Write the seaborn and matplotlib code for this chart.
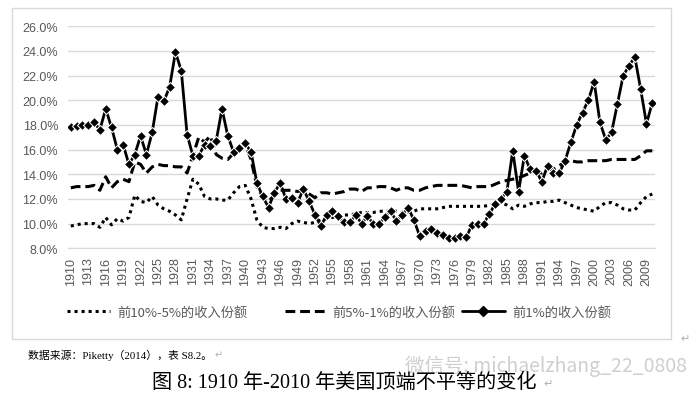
"""Top income shares in the US, 1910-2010 (Piketty 2014, table S8.2)."""
import matplotlib
matplotlib.use("Agg")
import matplotlib.pyplot as plt
from matplotlib.lines import Line2D
from matplotlib.patches import Rectangle
from matplotlib.ticker import FuncFormatter
import seaborn as sns

years = list(range(1910, 2011))

# 前1%的收入份额
top1 = [
    17.8, 17.9, 18.0, 18.0, 18.2, 17.6, 19.3, 17.8, 16.0, 16.4,
    14.8, 15.6, 17.1, 15.6, 17.4, 20.3, 19.9, 21.1, 23.9, 22.4,
    17.2, 15.5, 15.5, 16.4, 16.3, 16.7, 19.3, 17.1, 15.8, 16.1,
    16.5, 15.8, 13.3, 12.2, 11.3, 12.5, 13.3, 12.0, 12.1, 11.7,
    12.8, 11.8, 10.7, 9.8, 10.7, 11.0, 10.6, 10.1, 10.1, 10.7,
    10.0, 10.6, 10.0, 10.0, 10.5, 11.0, 10.2, 10.7, 11.3, 10.3,
    9.0, 9.4, 9.6, 9.2, 9.1, 8.8, 8.8, 9.0, 8.9, 9.9,
    10.0, 10.0, 10.8, 11.6, 12.0, 12.6, 15.9, 12.6, 15.5, 14.4,
    14.3, 13.4, 14.7, 14.1, 14.1, 15.1, 16.6, 18.0, 19.0, 20.0,
    21.5, 18.2, 16.8, 17.4, 19.7, 22.0, 22.8, 23.5, 20.9, 18.1, 19.8,
]

# 前5%-1%的收入份额
top5_1 = [
    12.9, 13.0, 13.0, 13.0, 13.1, 12.7, 13.8, 12.9, 13.4, 13.6,
    13.4, 15.0, 14.8, 14.1, 14.6, 14.8, 14.7, 14.7, 14.6, 14.6,
    14.1, 15.5, 17.0, 16.6, 17.1, 15.6, 15.3, 15.2, 15.7, 16.1,
    16.4, 15.2, 13.0, 12.2, 11.8, 12.3, 12.7, 12.7, 12.7, 12.6,
    12.7, 12.4, 12.1, 12.5, 12.5, 12.4, 12.5, 12.6, 12.8, 12.8,
    12.6, 12.9, 12.9, 13.0, 13.0, 12.9, 12.7, 12.9, 12.9, 12.7,
    12.7, 12.9, 13.0, 13.1, 13.1, 13.1, 13.1, 13.1, 13.0, 12.9,
    13.0, 13.0, 13.0, 13.2, 13.4, 13.5, 13.6, 13.7, 13.9, 14.1,
    14.2, 14.1, 14.4, 14.4, 14.7, 15.0, 15.1, 15.0, 15.0, 15.1,
    15.1, 15.1, 15.1, 15.2, 15.2, 15.2, 15.2, 15.2, 15.5, 15.9, 15.9,
]

# 前10%-5%的收入份额
top10_5 = [
    9.8, 9.9, 10.0, 10.0, 10.0, 9.7, 10.5, 9.9, 10.4, 10.2,
    10.5, 12.3, 11.8, 11.7, 12.2, 11.5, 11.2, 11.0, 10.7, 10.3,
    12.0, 13.6, 13.2, 12.2, 12.0, 12.0, 11.9, 11.9, 12.5, 13.0,
    13.1, 12.0, 10.3, 9.7, 9.6, 9.6, 9.7, 9.6, 10.0, 10.2,
    10.1, 10.0, 10.1, 10.3, 10.4, 10.5, 10.6, 10.7, 10.7, 10.8,
    10.9, 10.9, 10.9, 11.0, 11.0, 11.0, 11.0, 10.9, 10.9, 11.0,
    11.2, 11.2, 11.2, 11.2, 11.3, 11.4, 11.4, 11.4, 11.4, 11.4,
    11.4, 11.4, 11.5, 11.6, 11.7, 11.5, 11.2, 11.5, 11.4, 11.6,
    11.7, 11.7, 11.8, 11.8, 11.9, 11.7, 11.5, 11.3, 11.2, 11.1,
    11.0, 11.4, 11.7, 11.7, 11.5, 11.2, 11.1, 11.1, 11.7, 12.2, 12.4,
]

labels = ["前10%-5%的收入份额", "前5%-1%的收入份额", "前1%的收入份额"]
yticks = [8, 10, 12, 14, 16, 18, 20, 22, 24, 26]
xticks = list(range(1910, 2010, 3))

sns.set_style("white")
plt.rcParams["font.family"] = ["Liberation Sans", "Noto Sans CJK SC", "DejaVu Sans"]

GRAY = "#595959"
GRID = "#d9d9d9"
dotted = dict(color="black", linewidth=2.2, linestyle=(0, (1, 1.3)))
dashed = dict(color="black", linewidth=2.2, linestyle=(0, (3.2, 1.6)))
solid = dict(color="black", linewidth=2.0, linestyle="-", marker="D", markersize=5.5)

fig = plt.figure(figsize=(7.0, 4.06), dpi=100)
ax = fig.add_axes([0.097, 0.386, 0.839, 0.547])

sns.lineplot(x=years, y=top10_5, ax=ax, **dotted)
sns.lineplot(x=years, y=top5_1, ax=ax, **dashed)
sns.lineplot(x=years, y=top1, ax=ax, **solid)

ax.set_xlim(1909.5, 2010.5)
ax.set_ylim(8, 26)
ax.set_yticks(yticks)
ax.set_xticks(xticks)
ax.set_xticklabels([str(y) for y in xticks], rotation=90)
ax.yaxis.set_major_formatter(FuncFormatter(lambda v, _: f"{v:.1f}%"))
ax.tick_params(axis="both", length=0, labelsize=9, labelcolor=GRAY)
ax.tick_params(axis="y", pad=7)
ax.tick_params(axis="x", pad=6)
ax.grid(axis="y", color=GRID, linewidth=1)
ax.set_axisbelow(True)
for side in ["top", "right", "left"]:
    ax.spines[side].set_visible(False)
ax.spines["bottom"].set_color(GRID)
ax.set_xlabel("")
ax.set_ylabel("")

# one legend entry per block, placed like the original's legend row
handles = [Line2D([], [], **dotted), Line2D([], [], **dashed), Line2D([], [], **solid)]
starts = [67, 285, 462]
lengths = [3.25, 3.0, 3.25]
for h, lab, x0, hl in zip(handles, labels, starts, lengths):
    fig.legend([h], [lab], loc="center left", bbox_to_anchor=(x0 / 700, 1 - 313 / 406),
               frameon=False, borderpad=0, borderaxespad=0, handlelength=hl,
               handletextpad=0.55, labelcolor=GRAY,
               prop={"family": ["Noto Sans CJK SC", "DejaVu Sans"], "size": 9.5})

# chart frame
fig.patches.append(Rectangle((12 / 700, 1 - 340 / 406), 659 / 700, 331 / 406,
                             transform=fig.transFigure, fill=False,
                             edgecolor=GRID, linewidth=1))

mark = "#b0b0b0"
fig.text(680 / 700, 1 - 339 / 406, "↵", fontsize=8, color=mark,
         family=["DejaVu Sans"], ha="left", va="center")
fig.text(28 / 700, 1 - 355 / 406, "数据来源：Piketty（2014），表 S8.2。", fontsize=7.8,
         color="black", family=["Liberation Serif", "Noto Sans CJK SC"],
         ha="left", va="center")
fig.text(215 / 700, 1 - 355 / 406, "↵", fontsize=7, color=mark,
         family=["DejaVu Sans"], ha="left", va="center")
fig.text(546 / 700, 1 - 366 / 406, "微信号: michaelzhang_22_0808", fontsize=14,
         color="#cfcfcf", family=["Noto Sans CJK SC", "DejaVu Sans"],
         ha="center", va="center")
fig.text(344 / 700, 1 - 383 / 406, "图 8: 1910 年-2010 年美国顶端不平等的变化",
         fontsize=14.5, color="black", family=["Liberation Serif", "Noto Sans CJK SC"],
         ha="center", va="center")
fig.text(543 / 700, 1 - 384 / 406, "↵", fontsize=8, color=mark,
         family=["DejaVu Sans"], ha="left", va="center")

fig.savefig("out.png", dpi=100)
